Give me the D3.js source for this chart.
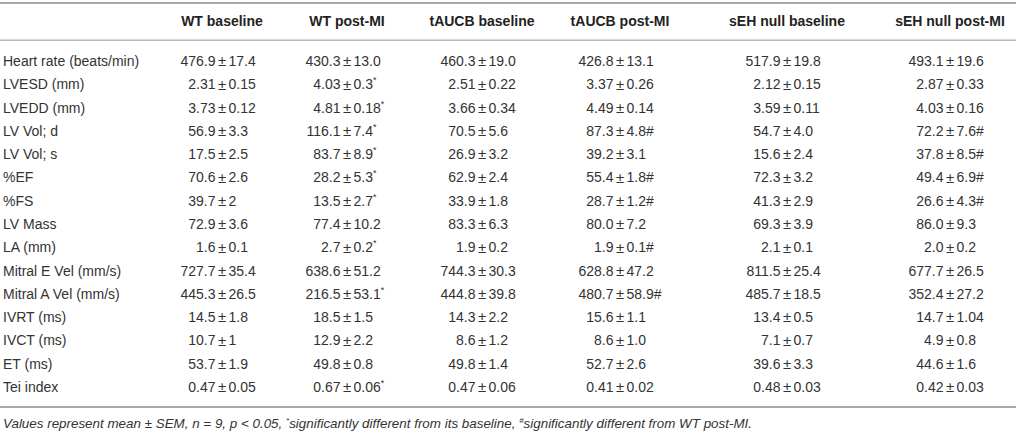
<!DOCTYPE html>
<html>
<head>
<meta charset="utf-8">
<style>
  body { margin: 0; background: #fff; }
  svg text { font-family: "Liberation Sans", Arial, Helvetica, sans-serif; }
</style>
</head>
<body>
<div class="tableChart"></div>
<script src="https://d3js.org/d3.v7.min.js"></script>
<script>
  // 資料
  const groups = ["WT baseline", "WT post-MI", "tAUCB baseline", "tAUCB post-MI", "sEH null baseline", "sEH null post-MI"];

  const rowLabels = ["Heart rate (beats/min)", "LVESD (mm)", "LVEDD (mm)", "LV Vol; d", "LV Vol; s", "%EF", "%FS",
                     "LV Mass", "LA (mm)", "Mitral E Vel (mm/s)", "Mitral A Vel (mm/s)", "IVRT (ms)", "IVCT (ms)",
                     "ET (ms)", "Tei index"];

  // "mean±sem" + 記號（* = 與基線不同, # = 與 WT post-MI 不同）
  const wtBaseline = ["476.9±17.4", "2.31±0.15", "3.73±0.12", "56.9±3.3", "17.5±2.5", "70.6±2.6", "39.7±2",
                      "72.9±3.6", "1.6±0.1", "727.7±35.4", "445.3±26.5", "14.5±1.8", "10.7±1", "53.7±1.9", "0.47±0.05"];
  const wtPostMI = ["430.3±13.0", "4.03±0.3*", "4.81±0.18*", "116.1±7.4*", "83.7±8.9*", "28.2±5.3*", "13.5±2.7*",
                    "77.4±10.2", "2.7±0.2*", "638.6±51.2", "216.5±53.1*", "18.5±1.5", "12.9±2.2", "49.8±0.8", "0.67±0.06*"];
  const tAUCBBaseline = ["460.3±19.0", "2.51±0.22", "3.66±0.34", "70.5±5.6", "26.9±3.2", "62.9±2.4", "33.9±1.8",
                         "83.3±6.3", "1.9±0.2", "744.3±30.3", "444.8±39.8", "14.3±2.2", "8.6±1.2", "49.8±1.4", "0.47±0.06"];
  const tAUCBPostMI = ["426.8±13.1", "3.37±0.26", "4.49±0.14", "87.3±4.8#", "39.2±3.1", "55.4±1.8#", "28.7±1.2#",
                       "80.0±7.2", "1.9±0.1#", "628.8±47.2", "480.7±58.9#", "15.6±1.1", "8.6±1.0", "52.7±2.6", "0.41±0.02"];
  const sEHBaseline = ["517.9±19.8", "2.12±0.15", "3.59±0.11", "54.7±4.0", "15.6±2.4", "72.3±3.2", "41.3±2.9",
                       "69.3±3.9", "2.1±0.1", "811.5±25.4", "485.7±18.5", "13.4±0.5", "7.1±0.7", "39.6±3.3", "0.48±0.03"];
  const sEHPostMI = ["493.1±19.6", "2.87±0.33", "4.03±0.16", "72.2±7.6#", "37.8±8.5#", "49.4±6.9#", "26.6±4.3#",
                     "86.0±9.3", "2.0±0.2", "677.7±26.5", "352.4±27.2", "14.7±1.04", "4.9±0.8", "44.6±1.6", "0.42±0.03"];

  const columns = [wtBaseline, wtPostMI, tAUCBBaseline, tAUCBPostMI, sEHBaseline, sEHPostMI];

  function drawTable(){
    const width = 1016,
          height = 433,
          textColor = "#333",
          ruleColor = "#a8a8a8"

    const svg = d3.select('.tableChart')
                  .append('svg')
                  .attr('width', width)
                  .attr('height', height)

    // 欄位位置（± 對齊點）
    const xScale = d3.scaleOrdinal()
                     .domain(groups)
                     .range([222, 347, 482, 620, 787, 950])

    // 列位置
    const yScale = d3.scaleBand()
                     .domain(rowLabels)
                     .range([49.4, 398.7])

    const rowY = d => yScale(d) + yScale.bandwidth() / 2

    // 橫線
    svg.append("rect").attr("x", 0).attr("y", 2).attr("width", width).attr("height", 2).attr("fill", ruleColor)
    svg.append("rect").attr("x", 0).attr("y", 39.5).attr("width", width).attr("height", 1.5).attr("fill", "#b8b8b8")
    svg.append("rect").attr("x", 0).attr("y", 406).attr("width", width).attr("height", 2).attr("fill", ruleColor)

    // 表頭
    svg.selectAll("text.head")
       .data(groups)
       .join("text")
       .attr("class", "head")
       .attr("x", d => xScale(d))
       .attr("y", 21)
       .attr("dy", "0.35em")
       .attr("text-anchor", "middle")
       .attr("font-size", 14)
       .attr("font-weight", "bold")
       .attr("fill", "#222")
       .text(d => d)

    // 列標籤
    svg.selectAll("text.label")
       .data(rowLabels)
       .join("text")
       .attr("class", "label")
       .attr("x", 3)
       .attr("y", d => rowY(d))
       .attr("dy", "0.35em")
       .attr("font-size", 14)
       .attr("fill", textColor)
       .text(d => d)

    // 數值
    const cells = []
    columns.forEach((col, ci) => {
      col.forEach((s, ri) => {
        const m = s.match(/^([\d.]+)±([\d.]+)([*#]?)$/)
        cells.push({group: groups[ci], row: rowLabels[ri], mean: m[1], sem: m[2], flag: m[3]})
      })
    })

    const cellG = svg.selectAll("g.cell")
                     .data(cells)
                     .join("g")
                     .attr("class", "cell")
                     .attr("transform", d => `translate(${xScale(d.group)},${rowY(d.row)})`)
                     .attr("font-size", 14)
                     .attr("fill", textColor)

    cellG.append("text")
         .attr("x", -6.5)
         .attr("dy", "0.35em")
         .attr("text-anchor", "end")
         .text(d => d.mean)

    cellG.append("text")
         .attr("dy", "0.35em")
         .attr("text-anchor", "middle")
         .attr("font-size", 15)
         .text("±")

    const semText = cellG.append("text")
         .attr("x", 6.5)
         .attr("dy", "0.35em")
         .attr("text-anchor", "start")
         .text(d => d.sem)

    semText.filter(d => d.flag === "#")
           .append("tspan")
           .text("#")

    semText.filter(d => d.flag === "*")
           .append("tspan")
           .attr("font-size", 9)
           .attr("dy", -6)
           .text("*")

    // 註解
    const note = svg.append("text")
                    .attr("x", 3)
                    .attr("y", 427.5)
                    .attr("font-size", 13.4)
                    .attr("font-style", "italic")
                    .attr("fill", textColor)
    note.append("tspan").text("Values represent mean ± SEM, n = 9, p < 0.05, ")
    note.append("tspan").attr("font-size", 8).attr("dy", -5).text("*")
    note.append("tspan").attr("dy", 5).text("significantly different from its baseline, ")
    note.append("tspan").attr("font-size", 8).attr("dy", -5).text("#")
    note.append("tspan").attr("dy", 5).text("significantly different from WT post-MI.")
  }
  drawTable()
</script>
</body>
</html>
